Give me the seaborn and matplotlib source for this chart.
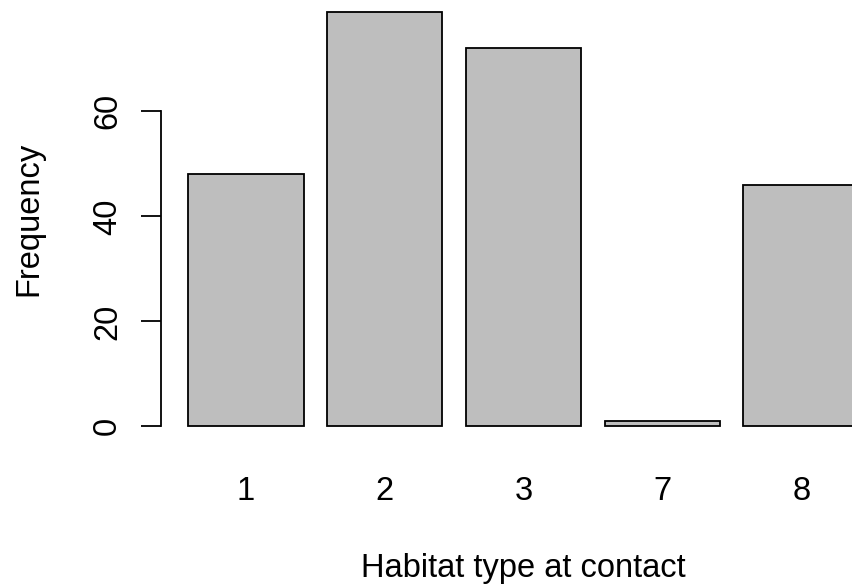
import matplotlib
matplotlib.use("Agg")
import matplotlib.pyplot as plt
import seaborn as sns
import pandas as pd

categories = ["1", "2", "3", "7", "8"]
frequency = [48, 79, 72, 1, 46]
y_ticks = [0, 20, 40, 60]

sns.set_style("white")
plt.rcParams['font.family'] = ['Liberation Sans', 'DejaVu Sans']
plt.rcParams['text.color'] = 'black'
plt.rcParams['axes.labelcolor'] = 'black'
plt.rcParams['xtick.color'] = 'black'
plt.rcParams['ytick.color'] = 'black'

df = pd.DataFrame({"habitat": categories, "freq": frequency})

W, H = 852, 588
fig = plt.figure(figsize=(W / 100, H / 100), dpi=100)
ax = fig.add_axes([161 / W, 1 - 443 / H, (886 - 161) / W, (443 + 5) / H])

sns.barplot(data=df, x="habitat", y="freq", order=categories, color="#BEBEBE",
            saturation=1, edgecolor="black", linewidth=1.3, width=1 / 1.2, ax=ax)

ax.set_xlim(-0.61, 4.61)
ax.set_ylim(-3.16, 82.16)

for s in ["top", "right", "bottom"]:
    ax.spines[s].set_visible(False)
ax.spines["left"].set_bounds(0, 60)
ax.spines["left"].set_linewidth(1.3)
ax.spines["left"].set_color("black")

fs = 23.5
ax.set_yticks(y_ticks)
ax.set_yticklabels([str(v) for v in y_ticks], rotation=90, va="center")
ax.tick_params(axis="y", length=14.4, width=1.3, colors="black", direction="out",
               labelsize=fs, pad=13, left=True)
ax.tick_params(axis="x", length=0, labelsize=fs, pad=24, colors="black")

ax.set_xlabel("Habitat type at contact", fontsize=fs, labelpad=33, color="black")
ax.set_ylabel("Frequency", fontsize=fs, labelpad=34, color="black")
ax.grid(False)

fig.savefig("out.png", dpi=100)
